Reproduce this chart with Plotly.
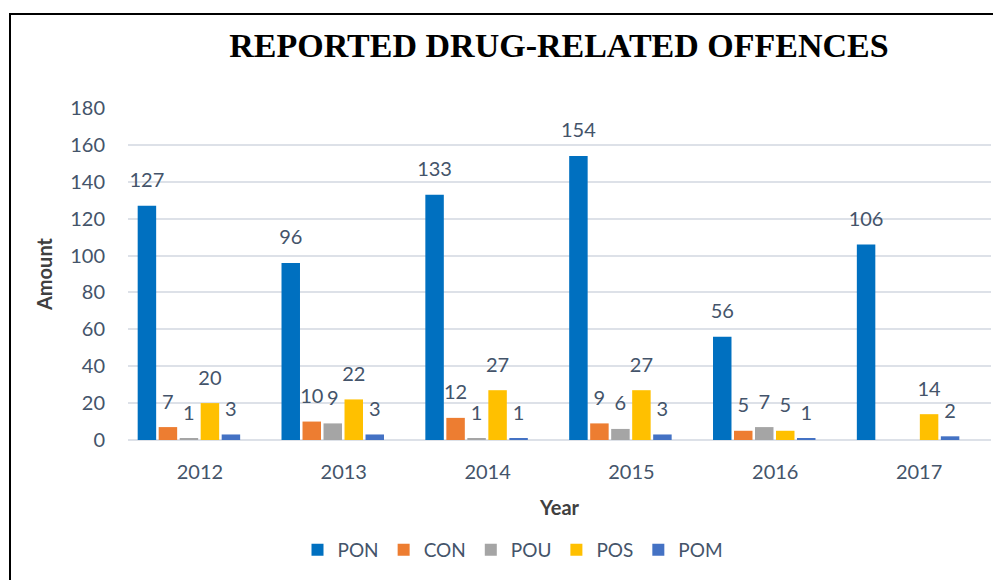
import plotly.graph_objects as go

years = ["2012", "2013", "2014", "2015", "2016", "2017"]
pon = [127, 96, 133, 154, 56, 106]
con = [7, 10, 12, 9, 5, None]
pou = [1, 9, 1, 6, 7, None]
pos = [20, 22, 27, 27, 5, 14]
pom = [3, 3, 1, 3, 1, 2]

series = [
    ("PON", pon, "#0070C0"),
    ("CON", con, "#ED7D31"),
    ("POU", pou, "#A5A5A5"),
    ("POS", pos, "#FFC000"),
    ("POM", pom, "#4472C4"),
]

FONT = "Lato, 'Open Sans', sans-serif"
TXT = "#44546A"
FS = 20

fig = go.Figure()
for name, vals, color in series:
    fig.add_trace(go.Bar(
        x=years, y=vals, name=name,
        marker=dict(color=color, line=dict(width=0)),
        hoverinfo="x+y+name",
    ))
# data labels, aligned with the grouped bars
for name, vals, color in series:
    fig.add_trace(go.Scatter(
        x=years, y=vals, mode="markers+text", showlegend=False,
        text=[("" if v is None else str(v)) for v in vals],
        textposition="top center",
        textfont=dict(family=FONT, size=FS, color=TXT),
        marker=dict(size=20, opacity=0, color=color),
        cliponaxis=False, hoverinfo="skip",
    ))

W, H = 993, 580
ml, mr, mt, mb = 128, 2, 108, 140
pw, ph = W - ml - mr, H - mt - mb
shift = 11 / (pw / 6)

def px2x(p):
    return (p - ml) / pw

def py2y(p):
    return (H - mb - p) / ph

fig.update_layout(
    width=W, height=H,
    margin=dict(l=ml, r=mr, t=mt, b=mb),
    paper_bgcolor="white", plot_bgcolor="white",
    barmode="group", bargap=0.27, bargroupgap=0.12,
    scattermode="group", scattergap=0.27,
    title=dict(text="<b>REPORTED DRUG-RELATED OFFENCES</b>",
               x=px2x(559), xref="paper", xanchor="center",
               y=1 - 45 / H, yanchor="middle",
               font=dict(family="'Liberation Serif', 'Times New Roman', serif", size=34, color="black")),
    font=dict(family=FONT, color=TXT),
    xaxis=dict(showgrid=False, showline=False, ticks="",
               range=[-0.5 + shift, 5.5 + shift], ticklabelshift=11,
               ticklabelstandoff=18, automargin=False,
               tickfont=dict(family=FONT, size=FS, color=TXT),
               title=dict(text="<b>Year</b>", font=dict(family=FONT, size=FS, color="#404040"), standoff=18)),
    yaxis=dict(range=[0, 180], dtick=20, showgrid=True, gridcolor="#DDE1E8", gridwidth=1.5,
               zeroline=True, zerolinecolor="#DDE1E8", zerolinewidth=1.5,
               ticks="", ticklabelstandoff=22, automargin=False,
               tickfont=dict(family=FONT, size=FS, color=TXT),
               title=dict(text="<b>Amount</b>", font=dict(family=FONT, size=FS, color="#404040"), standoff=12)),
    legend=dict(orientation="h", x=px2x(513), xanchor="center", y=py2y(550), yanchor="middle",
                font=dict(family=FONT, size=19, color=TXT), itemwidth=30, traceorder="normal",
                tracegroupgap=0),
    shapes=[dict(type="path", xref="paper", yref="paper",
                 path=f"M {px2x(10)} {py2y(600)} L {px2x(10)} {py2y(14)} L {px2x(1000)} {py2y(14)}",
                 line=dict(color="black", width=2))],
)

fig.write_html("out.html", post_script="document.body.style.margin='0';",
               config={"displayModeBar": False})
